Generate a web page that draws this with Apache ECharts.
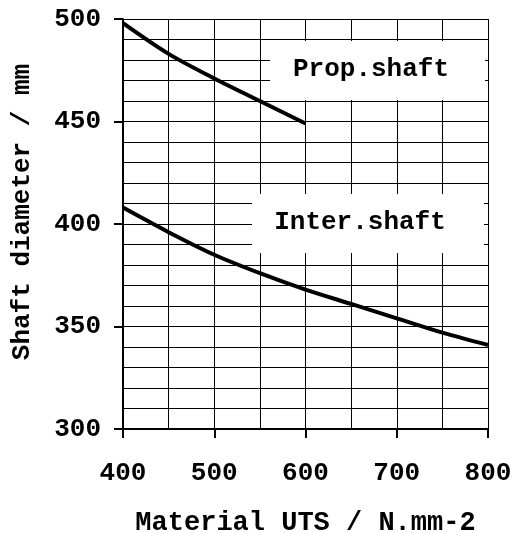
<!DOCTYPE html>
<html>
<head>
<meta charset="utf-8">
<script src="https://cdn.jsdelivr.net/npm/echarts@6/dist/echarts.min.js"></script>
<style>
  html, body { margin: 0; padding: 0; background: #fff; }
  #chart { width: 512px; height: 533px; }
</style>
</head>
<body>
<div id="chart"></div>
<script>
  // UTS values (N/mm2)
  var propUts = [400, 450, 500, 550, 600];
  var propDia = [498, 483, 471, 460, 449];
  var interUts = [400, 450, 500, 550, 600, 650, 700, 750, 800];
  var interDia = [408, 396, 385, 376, 368, 361, 354, 347, 341];

  var font = '"Liberation Mono", "Courier New", monospace';

  function pairs(xs, ys) {
    var out = [];
    for (var i = 0; i < xs.length; i++) {
      out.push([xs[i], ys[i]]);
    }
    return out;
  }

  var chart = echarts.init(document.getElementById('chart'));
  chart.setOption({
    animation: false,
    grid: { left: 123, right: 24, top: 19, bottom: 104, containLabel: false, outerBoundsMode: 'none' },
    xAxis: {
      type: 'value',
      min: 400, max: 800, interval: 100,
      name: 'Material UTS / N.mm-2',
      nameLocation: 'middle',
      nameGap: 81,
      nameTextStyle: { fontFamily: font, fontWeight: 'bold', fontSize: 27, color: '#000' },
      axisLine: { show: true, onZero: false, lineStyle: { color: '#000', width: 2 } },
      axisTick: { show: true, length: 9, lineStyle: { color: '#000', width: 2 } },
      axisLabel: { margin: 31, fontFamily: font, fontWeight: 'bold', fontSize: 26, color: '#000' },
      splitLine: { show: true, lineStyle: { color: '#000', width: 1 } },
      minorTick: { show: false, splitNumber: 2 },
      minorSplitLine: { show: true, lineStyle: { color: '#000', width: 1 } }
    },
    yAxis: {
      type: 'value',
      min: 300, max: 500, interval: 50,
      name: 'Shaft diameter / mm',
      nameLocation: 'middle',
      nameGap: 88,
      nameRotate: 90,
      nameTextStyle: { fontFamily: font, fontWeight: 'bold', fontSize: 26, color: '#000', padding: [0, 0, 0, 24] },
      axisLine: { show: true, onZero: false, lineStyle: { color: '#000', width: 2 } },
      axisTick: { show: true, length: 9, lineStyle: { color: '#000', width: 2 } },
      axisLabel: { margin: 22, fontFamily: font, fontWeight: 'bold', fontSize: 26, color: '#000' },
      splitLine: { show: true, lineStyle: { color: '#000', width: 1 } },
      minorTick: { show: false, splitNumber: 5 },
      minorSplitLine: { show: true, lineStyle: { color: '#000', width: 1 } }
    },
    graphic: [
      { type: 'rect', shape: { x: 270, y: 41, width: 215, height: 59 }, style: { fill: '#fff' }, z: 100 },
      { type: 'text', x: 371, y: 69, z: 101,
        style: { text: 'Prop.shaft', font: 'bold 26px ' + font, fill: '#000', align: 'center', verticalAlign: 'middle' } },
      { type: 'rect', shape: { x: 252, y: 194, width: 232, height: 59 }, style: { fill: '#fff' }, z: 100 },
      { type: 'text', x: 360, y: 222, z: 101,
        style: { text: 'Inter.shaft', font: 'bold 26px ' + font, fill: '#000', align: 'center', verticalAlign: 'middle' } }
    ],
    series: [
      {
        name: 'Prop.shaft', type: 'line', data: pairs(propUts, propDia),
        smooth: 0.3, showSymbol: false, lineStyle: { color: '#000', width: 4 }, z: 5
      },
      {
        name: 'Inter.shaft', type: 'line', data: pairs(interUts, interDia),
        smooth: 0.3, showSymbol: false, lineStyle: { color: '#000', width: 4 }, z: 5
      }
    ]
  });
</script>
</body>
</html>
